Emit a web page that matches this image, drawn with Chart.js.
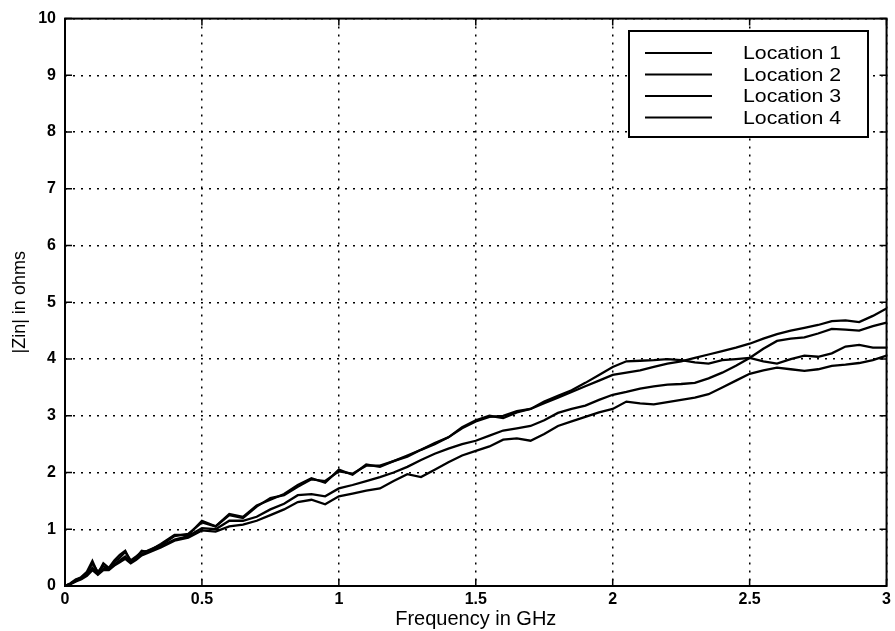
<!DOCTYPE html>
<html>
<head>
<meta charset="utf-8">
<script src="https://cdn.jsdelivr.net/npm/chart.js@4/dist/chart.umd.min.js"></script>
<style>
html,body{margin:0;padding:0;background:#fff;}
#wrap{width:895px;height:631px;position:relative;}
</style>
</head>
<body>
<div id="wrap"><canvas id="c" width="895" height="631"></canvas></div>
<script>
const freqGHz = [0,0.02,0.04,0.06,0.08,0.10,0.12,0.14,0.16,0.18,0.20,0.22,0.24,0.26,0.28,0.30,0.35,0.40,0.45,0.50,0.55,0.60,0.65,0.70,0.75,0.80,0.85,0.90,0.95,1.00,1.05,1.10,1.15,1.20,1.25,1.30,1.35,1.40,1.45,1.50,1.55,1.60,1.65,1.70,1.75,1.80,1.85,1.90,1.95,2.00,2.05,2.10,2.15,2.20,2.25,2.30,2.35,2.40,2.45,2.50,2.55,2.60,2.65,2.70,2.75,2.80,2.85,2.90,2.95,3.00];

const location1 = [0,0.05,0.12,0.15,0.22,0.40,0.25,0.35,0.30,0.42,0.50,0.60,0.45,0.52,0.60,0.62,0.72,0.88,0.92,1.12,1.05,1.25,1.20,1.40,1.55,1.60,1.75,1.88,1.85,2.02,1.98,2.12,2.12,2.20,2.28,2.40,2.50,2.62,2.78,2.90,2.98,3.00,3.08,3.12,3.22,3.32,3.42,3.52,3.62,3.72,3.76,3.80,3.86,3.92,3.96,4.02,4.08,4.14,4.20,4.27,4.36,4.44,4.50,4.55,4.60,4.67,4.68,4.65,4.76,4.89];

const location2 = [0,0.04,0.10,0.16,0.25,0.44,0.22,0.40,0.32,0.45,0.55,0.62,0.42,0.50,0.62,0.60,0.74,0.90,0.90,1.15,1.05,1.27,1.22,1.42,1.52,1.62,1.78,1.90,1.82,2.05,1.96,2.14,2.10,2.20,2.30,2.40,2.52,2.62,2.80,2.92,3.00,2.96,3.06,3.12,3.25,3.35,3.45,3.58,3.72,3.86,3.96,3.97,3.98,4.00,3.98,3.94,3.92,3.98,4.00,4.02,3.96,3.92,4.00,4.06,4.04,4.10,4.22,4.25,4.20,4.20];

const location3 = [0,0.04,0.09,0.14,0.20,0.32,0.22,0.30,0.30,0.38,0.45,0.52,0.42,0.48,0.56,0.60,0.70,0.82,0.88,1.02,1.00,1.15,1.15,1.22,1.35,1.45,1.60,1.62,1.58,1.72,1.78,1.85,1.92,2.00,2.10,2.22,2.33,2.42,2.50,2.56,2.65,2.74,2.78,2.82,2.92,3.05,3.12,3.18,3.28,3.37,3.42,3.48,3.52,3.55,3.56,3.58,3.66,3.76,3.88,4.02,4.18,4.32,4.36,4.38,4.45,4.53,4.52,4.50,4.58,4.64];

const location4 = [0,0.03,0.08,0.12,0.18,0.28,0.20,0.28,0.28,0.36,0.42,0.48,0.40,0.46,0.54,0.58,0.68,0.80,0.85,0.98,0.96,1.05,1.08,1.15,1.25,1.35,1.48,1.52,1.44,1.58,1.63,1.68,1.72,1.85,1.97,1.92,2.05,2.18,2.30,2.38,2.46,2.58,2.60,2.56,2.68,2.82,2.90,2.98,3.06,3.12,3.25,3.22,3.20,3.24,3.28,3.32,3.38,3.50,3.62,3.74,3.80,3.85,3.82,3.79,3.82,3.88,3.90,3.93,3.98,4.06];

const seriesNames = ['Location 1','Location 2','Location 3','Location 4'];
const xTicks = [0,0.5,1,1.5,2,2.5,3];
const yTicks = [0,1,2,3,4,5,6,7,8,9,10];

const FONT = '"Liberation Sans", Arial, Helvetica, sans-serif';
const allSeries = [location1, location2, location3, location4];

const datasets = allSeries.map((vals, i) => ({
  label: seriesNames[i],
  data: freqGHz.map((f, k) => ({x: f, y: vals[k]})),
  borderColor: '#000',
  borderWidth: 2.3,
  pointRadius: 0,
  tension: 0,
  fill: false
}));

const framePlugin = {
  id: 'frame',
  afterDraw(chart) {
    const ctx = chart.ctx;
    const a = chart.chartArea;
    const xs = chart.scales.x, ys = chart.scales.y;
    ctx.save();
    ctx.strokeStyle = '#000';
    ctx.lineWidth = 2;
    ctx.strokeRect(a.left, a.top, a.right - a.left, a.bottom - a.top);
    // inward tick marks
    ctx.lineWidth = 1.5;
    ctx.beginPath();
    yTicks.forEach(v => {
      const y = ys.getPixelForValue(v);
      ctx.moveTo(a.left, y); ctx.lineTo(a.left + 7, y);
      ctx.moveTo(a.right, y); ctx.lineTo(a.right - 7, y);
    });
    xTicks.forEach(v => {
      const x = xs.getPixelForValue(v);
      ctx.moveTo(x, a.bottom); ctx.lineTo(x, a.bottom - 7);
      ctx.moveTo(x, a.top); ctx.lineTo(x, a.top + 7);
    });
    ctx.stroke();
    // legend box
    const lx = 629, ly = 31, lw = 239, lh = 106;
    ctx.fillStyle = '#fff';
    ctx.fillRect(lx, ly, lw, lh);
    ctx.lineWidth = 2;
    ctx.strokeRect(lx, ly, lw, lh);
    ctx.font = '19px ' + FONT;
    ctx.textBaseline = 'middle';
    ctx.textAlign = 'left';
    ctx.fillStyle = '#000';
    seriesNames.forEach((name, i) => {
      const y = 53 + i * 21.5;
      ctx.beginPath();
      ctx.lineWidth = 2;
      ctx.moveTo(645, y); ctx.lineTo(712, y);
      ctx.stroke();
      ctx.save();
      ctx.translate(743, y + 1);
      ctx.scale(1.12, 1);
      ctx.fillText(name, 0, 0);
      ctx.restore();
    });
    ctx.restore();
  }
};

new Chart(document.getElementById('c'), {
  type: 'line',
  data: { datasets },
  options: {
    responsive: false,
    animation: false,
    layout: { padding: { top: 18, right: 6, left: 9, bottom: 0 } },
    plugins: { legend: { display: false }, tooltip: { enabled: false } },
    scales: {
      x: {
        type: 'linear',
        min: 0, max: 3,
        afterFit(s) { s.height = 45; },
        afterBuildTicks(s) { s.ticks = xTicks.map(v => ({value: v})); },
        border: { display: false, dash: [2, 6] },
        grid: { color: '#000', lineWidth: 1.5, drawTicks: false },
        ticks: {
          color: '#000', padding: 4, maxRotation: 0,
          font: { family: FONT, size: 16, weight: 'bold' },
          callback: v => String(v)
        },
        title: {
          display: true, text: 'Frequency in GHz', color: '#000',
          font: { family: FONT, size: 20 }, padding: { top: -5, bottom: 0 }
        }
      },
      y: {
        type: 'linear',
        min: 0, max: 10,
        afterFit(s) { s.width = 56; },
        afterBuildTicks(s) { s.ticks = yTicks.map(v => ({value: v})); },
        border: { display: false, dash: [2, 6] },
        grid: { color: '#000', lineWidth: 1.5, drawTicks: false },
        ticks: {
          color: '#000', padding: 9,
          font: { family: FONT, size: 16, weight: 'bold' },
          callback: v => String(v)
        },
        title: {
          display: true, text: '|Zin| in ohms', color: '#000',
          font: { family: FONT, size: 18 }, padding: { top: 0, bottom: 0 }
        }
      }
    }
  },
  plugins: [framePlugin]
});
</script>
</body>
</html>
